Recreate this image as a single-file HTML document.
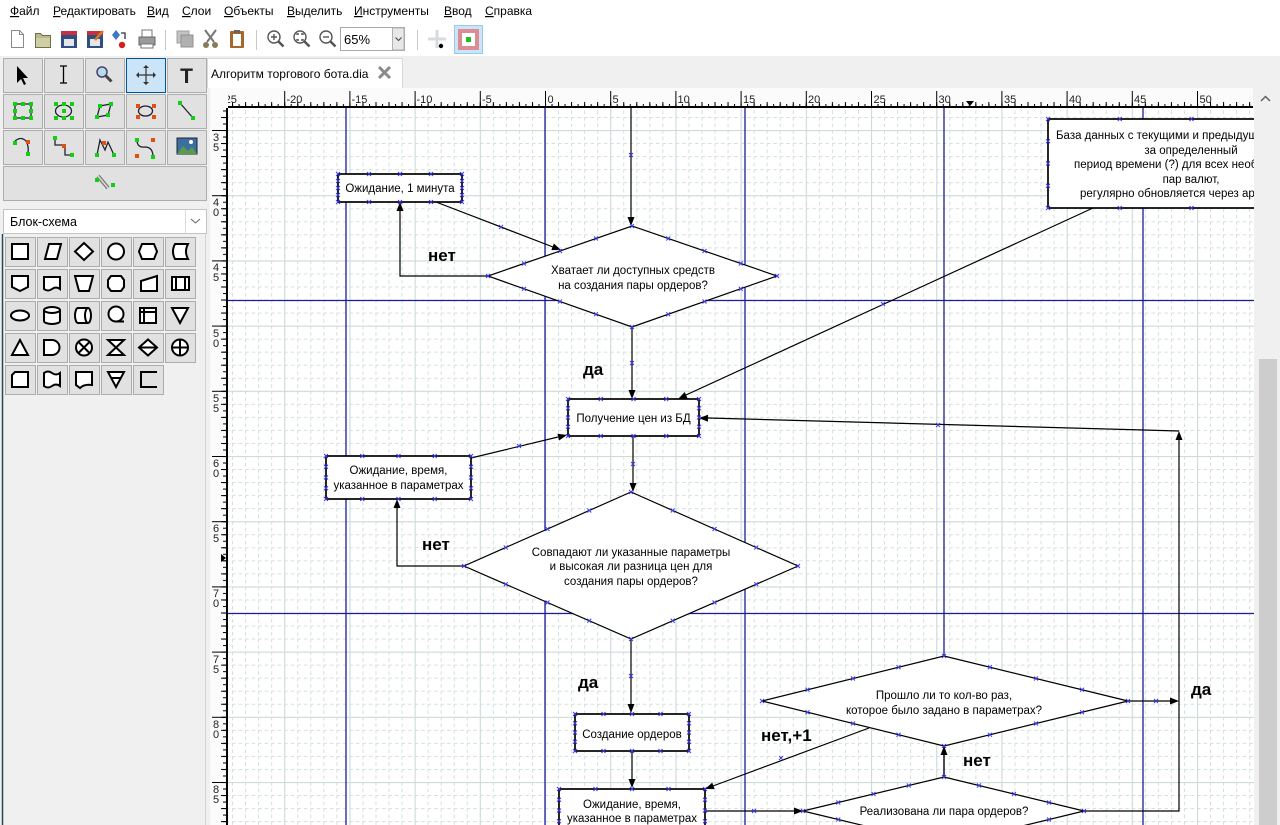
<!DOCTYPE html>
<html><head><meta charset="utf-8">
<style>
html,body{margin:0;padding:0;width:1280px;height:825px;overflow:hidden;background:#f0f0f0;}
svg{display:block}
text{font-family:"Liberation Sans","DejaVu Sans",sans-serif;}
</style></head><body>
<svg width="1280" height="825" viewBox="0 0 1280 825" xmlns="http://www.w3.org/2000/svg">
<defs>
<clipPath id="cv"><rect x="228" y="108" width="1026" height="717"/></clipPath>
<clipPath id="hr"><rect x="228" y="88" width="1025" height="20"/></clipPath>
<pattern id="mg" x="545" y="456" width="13.04" height="13.04" patternUnits="userSpaceOnUse">
<path d="M0.5 0V13.04M0 0.5H13.04" stroke="#d3dfde" stroke-width="1" stroke-dasharray="3.6 2.92" fill="none"/>
</pattern>
<pattern id="Mg" x="545" y="456" width="65.2" height="65.2" patternUnits="userSpaceOnUse">
<path d="M0.5 0V65.2M0 0.5H65.2" stroke="#cddcdb" stroke-width="1.2" fill="none"/>
</pattern>
<pattern id="hT1" x="545" y="0" width="6.52" height="825" patternUnits="userSpaceOnUse"><rect x="0" y="104" width="1" height="3" fill="#000"/></pattern>
<pattern id="hT2" x="545" y="0" width="13.04" height="825" patternUnits="userSpaceOnUse"><rect x="0" y="102" width="1" height="5" fill="#000"/></pattern>
<pattern id="hT3" x="545" y="0" width="65.2" height="825" patternUnits="userSpaceOnUse"><rect x="0" y="91" width="1" height="16" fill="#000"/></pattern>
<pattern id="vT1" x="0" y="456" width="1280" height="6.52" patternUnits="userSpaceOnUse"><rect x="223" y="0" width="3" height="1" fill="#000"/></pattern>
<pattern id="vT2" x="0" y="456" width="1280" height="13.04" patternUnits="userSpaceOnUse"><rect x="221" y="0" width="5" height="1" fill="#000"/></pattern>
<pattern id="vT3" x="0" y="456" width="1280" height="65.2" patternUnits="userSpaceOnUse"><rect x="212" y="0" width="15" height="1" fill="#000"/></pattern>
</defs>

<!-- menu bar -->
<rect x="0" y="0" width="1280" height="22" fill="#ffffff"/>
<g font-size="12" fill="#000">
<text x="10" y="15"><tspan text-decoration="underline">Ф</tspan>айл</text>
<text x="53" y="15"><tspan text-decoration="underline">Р</tspan>едактировать</text>
<text x="147" y="15"><tspan text-decoration="underline">В</tspan>ид</text>
<text x="182" y="15"><tspan text-decoration="underline">С</tspan>лои</text>
<text x="224" y="15"><tspan text-decoration="underline">О</tspan>бъекты</text>
<text x="287" y="15"><tspan text-decoration="underline">В</tspan>ыделить</text>
<text x="354" y="15"><tspan text-decoration="underline">И</tspan>нструменты</text>
<text x="444" y="15"><tspan text-decoration="underline">В</tspan>вод</text>
<text x="485" y="15"><tspan text-decoration="underline">С</tspan>правка</text>
</g>

<!-- toolbar -->
<rect x="0" y="22" width="1280" height="34" fill="#ffffff"/>
<!-- new -->
<path d="M11.5 30.5h8l4 4v13h-12z" fill="#fff" stroke="#8a8a8a"/>
<path d="M19.5 30.5v4h4" fill="none" stroke="#8a8a8a"/>
<!-- open -->
<path d="M35.5 33.5h5l2 2h8v12h-15z" fill="#b9b98c" stroke="#6f6f4a"/>
<rect x="36" y="38" width="14" height="9" fill="#cfcfa4"/>
<!-- save -->
<rect x="61" y="31" width="16" height="17" fill="#2d4f86"/>
<rect x="61" y="31" width="16" height="4" fill="#c8303c"/>
<rect x="64" y="39" width="10" height="7" fill="#e6e6e6"/>
<!-- save as -->
<rect x="87" y="31" width="16" height="17" fill="#2d4f86"/>
<rect x="87" y="31" width="16" height="4" fill="#c8303c"/>
<rect x="90" y="39" width="10" height="7" fill="#e6e6e6"/>
<path d="M95 40l8-9" stroke="#d87b20" stroke-width="2.5"/>
<!-- export -->
<path d="M116 30l4 5-4 5-4-5z" fill="#3a78c8"/>
<circle cx="122" cy="45" r="3.2" fill="#d02020"/>
<path d="M121 33h4v6" fill="none" stroke="#333" stroke-width="1.3"/>
<!-- print -->
<rect x="142" y="30" width="10" height="7" fill="#fff" stroke="#777"/>
<rect x="139" y="37" width="16" height="8" fill="#9a9a9a" stroke="#666"/>
<rect x="141" y="44" width="12" height="4" fill="#fff" stroke="#777"/>
<line x1="165.5" y1="30" x2="165.5" y2="50" stroke="#c8c8c8"/>
<!-- copy -->
<rect x="177" y="31" width="12" height="12" fill="#c4c4c4" stroke="#a0a0a0"/>
<rect x="181" y="35" width="12" height="12" fill="#b0b0b0" stroke="#909090"/>
<!-- cut -->
<path d="M205 30l9 12M216 30l-9 12" stroke="#777" stroke-width="2"/>
<circle cx="206" cy="45" r="3" fill="#8a7a5a"/><circle cx="215" cy="45" r="3" fill="#8a7a5a"/>
<!-- paste -->
<rect x="230" y="31" width="14" height="17" fill="#a5682a" rx="1"/>
<rect x="233" y="34" width="8" height="12" fill="#fff"/>
<rect x="234" y="30" width="6" height="3" fill="#666"/>
<line x1="256.5" y1="30" x2="256.5" y2="50" stroke="#c8c8c8"/>
<!-- zoom in/fit/out -->
<g fill="none" stroke="#555" stroke-width="1.4">
<circle cx="274" cy="37" r="6"/><path d="M278.5 41.5l5 5" stroke-width="2.5"/><path d="M271 37h6M274 34v6"/>
<circle cx="300" cy="37" r="6"/><path d="M304.5 41.5l5 5" stroke-width="2.5"/><path d="M297 35v-1h2M303 35v-1h-2M297 39v1h2M303 39v1h-2"/>
<circle cx="326" cy="37" r="6"/><path d="M330.5 41.5l5 5" stroke-width="2.5"/><path d="M323 37h6"/>
</g>
<!-- combo -->
<rect x="340.5" y="27.5" width="64" height="23" fill="#fff" stroke="#a8a8a8"/>
<rect x="392.5" y="28" width="11.5" height="22" fill="#e8e8e8" stroke="#b0b0b0"/>
<path d="M395.5 37.5l3 3 3-3" fill="none" stroke="#444"/>
<text x="344" y="44" font-size="13">65%</text>
<line x1="417.5" y1="30" x2="417.5" y2="50" stroke="#c8c8c8"/>
<!-- snap -->
<path d="M437 30v18M428 39h18" stroke="#d6dcdc" stroke-width="3"/>
<circle cx="441" cy="46" r="2.2" fill="#000"/>
<!-- grid toggle -->
<rect x="454.5" y="25.5" width="28" height="28" fill="#cce4f7" stroke="#99c9ef"/>
<rect x="458" y="29" width="21" height="21" fill="#de8c94"/>
<rect x="462" y="33" width="13" height="13" fill="#fff"/>
<rect x="466" y="37" width="5" height="5" fill="#20c020"/>

<!-- toolbox -->
<rect x="0" y="56" width="207" height="769" fill="#f0f0f0"/>
<g stroke="#adadad" fill="#e1e1e1">
<rect x="3.5" y="58.5" width="39" height="34"/><rect x="44.5" y="58.5" width="39" height="34"/><rect x="85.5" y="58.5" width="39" height="34"/><rect x="167.5" y="58.5" width="39" height="34"/>
<rect x="3.5" y="94.5" width="39" height="34"/><rect x="44.5" y="94.5" width="39" height="34"/><rect x="85.5" y="94.5" width="39" height="34"/><rect x="126.5" y="94.5" width="39" height="34"/><rect x="167.5" y="94.5" width="39" height="34"/>
<rect x="3.5" y="130.5" width="39" height="34"/><rect x="44.5" y="130.5" width="39" height="34"/><rect x="85.5" y="130.5" width="39" height="34"/><rect x="126.5" y="130.5" width="39" height="34"/><rect x="167.5" y="130.5" width="39" height="34"/>
<rect x="3.5" y="166.5" width="203" height="34"/>
</g>
<rect x="126.5" y="58.5" width="39" height="34" fill="#cce4f7" stroke="#005499"/>
<!-- row1 icons -->
<path d="M17 66v17l4-4 3 6 2-1-3-6h5z" fill="#000"/>
<path d="M60 66h7M63.5 66v17M60 83h7" stroke="#000" stroke-width="1.3" fill="none"/>
<circle cx="102" cy="72" r="5" fill="#bcd8f0" stroke="#446" stroke-width="1.5"/><path d="M105.5 75.5l6 6" stroke="#444" stroke-width="3"/>
<path d="M146 66v18M137 75h18" stroke="#333" stroke-width="1.2"/>
<path d="M146 65l-3 3h6zM146 85l-3-3h6zM136 75l3-3v6zM156 75l-3-3v6z" fill="#333"/>
<text x="186.5" y="83" font-family="Liberation Serif,serif" font-size="21" font-weight="bold" text-anchor="middle" fill="#222">T</text>
<!-- row2 icons -->
<g stroke="#223" stroke-width="1.3" fill="none">
<rect x="15" y="104" width="16" height="14"/>
<ellipse cx="63.5" cy="111" rx="8" ry="6"/>
<path d="M97 117l3-11 11-2-3 11z"/>
<ellipse cx="145.5" cy="111" rx="7" ry="5"/>
<path d="M180 103l13 15"/>
</g>
<g fill="#10d010">
<rect x="13" y="102" width="4" height="4"/><rect x="21" y="102" width="4" height="4"/><rect x="29" y="102" width="4" height="4"/><rect x="13" y="109" width="4" height="4"/><rect x="29" y="109" width="4" height="4"/><rect x="13" y="116" width="4" height="4"/><rect x="21" y="116" width="4" height="4"/><rect x="29" y="116" width="4" height="4"/>
<rect x="54" y="102" width="4" height="4"/><rect x="62" y="102" width="4" height="4"/><rect x="70" y="102" width="4" height="4"/><rect x="54" y="116" width="4" height="4"/><rect x="62" y="116" width="4" height="4"/><rect x="70" y="116" width="4" height="4"/><rect x="62" y="109" width="4" height="4"/>
<rect x="95" y="115" width="4" height="4"/><rect x="98" y="104" width="4" height="4"/><rect x="109" y="102" width="4" height="4"/><rect x="106" y="113" width="4" height="4"/>
<rect x="178" y="101" width="4" height="4"/><rect x="191" y="116" width="4" height="4"/>
</g>
<g fill="#e05010"><rect x="136" y="104" width="4" height="4"/><rect x="152" y="104" width="4" height="4"/><rect x="136" y="115" width="4" height="4"/><rect x="152" y="115" width="4" height="4"/></g>
<!-- row3 icons -->
<g stroke="#223" stroke-width="1.3" fill="none">
<path d="M15 141q6-5 11 0q3 5 2 12"/>
<path d="M55 138v7h10v10h7"/>
<path d="M97 155l3-15 5 10 3-8 6 13"/>
<path d="M137 140q0 8 8 7q8 0 8 10"/>
</g>
<g fill="#10d010"><rect x="13" y="141" width="4" height="4"/><rect x="26" y="152" width="4" height="4"/><rect x="53" y="136" width="4" height="4"/><rect x="70" y="153" width="4" height="4"/><rect x="95" y="153" width="4" height="4"/><rect x="112" y="153" width="4" height="4"/><rect x="135" y="138" width="4" height="4"/><rect x="151" y="155" width="4" height="4"/></g>
<g fill="#e05010"><rect x="26" y="140" width="4" height="4"/><rect x="62" y="144" width="4" height="4"/><rect x="102" y="141" width="4" height="4"/><rect x="135" y="154" width="4" height="4"/><rect x="151" y="138" width="4" height="4"/></g>
<rect x="177" y="138" width="20" height="16" fill="#3a6fa0" stroke="#223"/>
<path d="M177 154l6-8 5 5 4-4 5 7z" fill="#5a9a4a"/>
<circle cx="191" cy="142" r="2" fill="#fff"/>
<!-- row4 icon -->
<path d="M98 176l10 12" stroke="#777" stroke-width="4"/>
<path d="M98 176l10 12" stroke="#ddd" stroke-width="1.5"/>
<rect x="95" y="178" width="4" height="4" fill="#10d010"/><rect x="111" y="183" width="4" height="4" fill="#10d010"/>

<!-- dropdown -->
<rect x="3.5" y="209.5" width="203" height="24" fill="#fff" stroke="#c4c4c4"/>
<line x1="185.5" y1="210" x2="185.5" y2="233" stroke="#dcdcdc"/>
<path d="M191 219l4.5 4 4.5-4" fill="none" stroke="#666"/>
<text x="10" y="226" font-size="12.5" fill="#000">Блок-схема</text>

<!-- palette -->
<rect x="2" y="234" width="203" height="591" fill="#f0f0f0"/>
<line x1="2.5" y1="234" x2="2.5" y2="825" stroke="#2b4756" stroke-width="1.5"/>
<line x1="205.5" y1="234" x2="205.5" y2="825" stroke="#d4d4d4"/>
<g stroke="#adadad" fill="#e1e1e1">
<rect x="5.5" y="237.5" width="30" height="29"/><rect x="37.5" y="237.5" width="30" height="29"/><rect x="69.5" y="237.5" width="30" height="29"/><rect x="101.5" y="237.5" width="30" height="29"/><rect x="133.5" y="237.5" width="30" height="29"/><rect x="165.5" y="237.5" width="30" height="29"/>
<rect x="5.5" y="269.5" width="30" height="29"/><rect x="37.5" y="269.5" width="30" height="29"/><rect x="69.5" y="269.5" width="30" height="29"/><rect x="101.5" y="269.5" width="30" height="29"/><rect x="133.5" y="269.5" width="30" height="29"/><rect x="165.5" y="269.5" width="30" height="29"/>
<rect x="5.5" y="301.5" width="30" height="29"/><rect x="37.5" y="301.5" width="30" height="29"/><rect x="69.5" y="301.5" width="30" height="29"/><rect x="101.5" y="301.5" width="30" height="29"/><rect x="133.5" y="301.5" width="30" height="29"/><rect x="165.5" y="301.5" width="30" height="29"/>
<rect x="5.5" y="333.5" width="30" height="29"/><rect x="37.5" y="333.5" width="30" height="29"/><rect x="69.5" y="333.5" width="30" height="29"/><rect x="101.5" y="333.5" width="30" height="29"/><rect x="133.5" y="333.5" width="30" height="29"/><rect x="165.5" y="333.5" width="30" height="29"/>
<rect x="5.5" y="365.5" width="30" height="29"/><rect x="37.5" y="365.5" width="30" height="29"/><rect x="69.5" y="365.5" width="30" height="29"/><rect x="101.5" y="365.5" width="30" height="29"/><rect x="133.5" y="365.5" width="30" height="29"/>
</g>
<g stroke="#000" stroke-width="2" fill="#fff">
<rect x="12" y="244" width="16" height="15"/>
<path d="M45 259l4-15h12l-4 15z"/>
<path d="M84 243l9 8.5-9 8.5-9-8.5z"/>
<circle cx="116" cy="251.5" r="8"/>
<path d="M142 244h12l3 7.5-3 7.5h-12l-3-7.5z"/>
<path d="M175 244h13q-4 7.5 0 15h-13q-4-7.5 0-15z"/>
<path d="M12 276h16v11l-8 4-8-4z"/>
<path d="M44 277h16v12q-4-3-8 0t-8 0z"/>
<path d="M75 276h18l-4 15h-10z"/>
<path d="M111 276h10l3 4v7l-3 4h-10l-3-4v-7z"/>
<path d="M141 281l16-5v15h-16z"/>
<rect x="172" y="277" width="17" height="13"/>
<path d="M176 277v13M185 277v13" fill="none"/>
<ellipse cx="20" cy="315.5" rx="9" ry="5"/>
<path d="M44 310v11a8 3 0 0 0 16 0v-11a8 3 0 0 0-16 0a8 3 0 0 0 16 0"/>
<path d="M78 308h10a3 7.5 0 0 1 0 15h-10a3 7.5 0 0 1 0-15z"/><path d="M88 308a3 7.5 0 0 0 0 15" fill="none"/>
<circle cx="116" cy="314" r="7.5"/><path d="M116 321.5h8" fill="none"/>
<rect x="140" y="308" width="16" height="15"/><path d="M144 308v15M140 312h16" fill="none"/>
<path d="M172 308h16l-8 15z"/>
<path d="M12 355h16l-8-15z"/>
<path d="M44 340h8a7.5 7.5 0 0 1 0 15h-8z"/>
<circle cx="84" cy="347.5" r="8"/><path d="M78.5 342l11 11M89.5 342l-11 11" fill="none"/>
<path d="M108 340h16l-16 15h16z"/>
<path d="M148 339.5l9 8-9 8-9-8z"/><path d="M139 347.5h18" fill="none"/>
<circle cx="180" cy="347.5" r="8"/><path d="M180 339.5v16M172 347.5h16" fill="none"/>
<path d="M12 375l3-3h13v15h-16z"/>
<path d="M44 373q4-3 8 0t8 0v13q-4-3-8 0t-8 0z"/>
<path d="M76 372h16v13q-8-1-12 3l-4-3z"/>
<path d="M108 372h16l-8 15z"/><path d="M111 378h10" fill="none"/>
<path d="M157 372h-16v15h16" fill="none"/>
</g>

<!-- tab bar -->
<rect x="207" y="56" width="1073" height="32" fill="#f0f0f0"/>
<rect x="207.5" y="58.5" width="195" height="30" fill="#ffffff" stroke="#d9d9d9"/>
<text x="211" y="78" font-size="12" fill="#000">Алгоритм торгового бота.dia</text>
<path d="M379 67l11 11M390 67l-11 11" stroke="#8a8a8a" stroke-width="3"/>

<!-- rulers -->
<rect x="207" y="88" width="21" height="737" fill="#f0f0f0"/>
<rect x="210" y="88" width="18" height="737" fill="#fbfbfb"/>
<rect x="228" y="88" width="1025" height="20" fill="#fbfbfb"/>
<g clip-path="url(#hr)">
<rect x="228" y="88" width="1025" height="20" fill="url(#hT1)"/>
<rect x="228" y="88" width="1025" height="20" fill="url(#hT2)"/>
<rect x="228" y="88" width="1025" height="20" fill="url(#hT3)"/>
<g font-size="11" fill="#222">
<text x="221" y="103">-25</text><text x="286.5" y="103">-20</text><text x="351.5" y="103">-15</text><text x="416.5" y="103">-10</text><text x="482" y="103">-5</text><text x="547.5" y="103">0</text><text x="612.5" y="103">5</text><text x="677.5" y="103">10</text><text x="743" y="103">15</text><text x="808" y="103">20</text><text x="873.5" y="103">25</text><text x="938.5" y="103">30</text><text x="1004" y="103">35</text><text x="1069" y="103">40</text><text x="1134" y="103">45</text><text x="1199.5" y="103">50</text>
</g>
</g>
<rect x="228" y="106" width="1025" height="2" fill="#000"/>
<polygon points="966,101 974,101 970,106" fill="#000"/>
<rect x="210" y="108" width="18" height="717" fill="url(#vT1)"/>
<rect x="210" y="108" width="18" height="717" fill="url(#vT2)"/>
<rect x="210" y="108" width="18" height="717" fill="url(#vT3)"/>
<rect x="226" y="108" width="2" height="717" fill="#000"/>
<polygon points="221,554 221,562 226,558" fill="#000"/>
<g font-size="11" fill="#222">
<text x="213" y="141">3</text><text x="213" y="151">5</text>
<text x="213" y="206">4</text><text x="213" y="216">0</text>
<text x="213" y="271">4</text><text x="213" y="281">5</text>
<text x="213" y="337">5</text><text x="213" y="347">0</text>
<text x="213" y="402">5</text><text x="213" y="412">5</text>
<text x="213" y="467">6</text><text x="213" y="477">0</text>
<text x="213" y="532">6</text><text x="213" y="542">5</text>
<text x="213" y="597">7</text><text x="213" y="607">0</text>
<text x="213" y="663">7</text><text x="213" y="673">5</text>
<text x="213" y="728">8</text><text x="213" y="738">0</text>
<text x="213" y="793">8</text><text x="213" y="803">5</text>
</g>

<!-- scrollbar -->
<rect x="1253" y="88" width="27" height="737" fill="#f0f0f0"/>
<path d="M1261 101l4.5-4.5 4.5 4.5" fill="none" stroke="#606060" stroke-width="1.5"/>
<rect x="1259" y="359" width="18" height="466" fill="#cdcdcd"/>

<!-- canvas -->
<g clip-path="url(#cv)">
<rect x="228" y="108" width="1026" height="717" fill="#ffffff"/>
<rect x="228" y="108" width="1026" height="717" fill="url(#mg)"/>
<rect x="228" y="108" width="1026" height="717" fill="url(#Mg)"/>
<!-- page breaks -->
<g stroke="#1c1c9c" stroke-width="1.3">
<line x1="346" y1="108" x2="346" y2="825"/>
<line x1="545" y1="108" x2="545" y2="825"/>
<line x1="745" y1="108" x2="745" y2="825"/>
<line x1="944" y1="108" x2="944" y2="825"/>
<line x1="1143" y1="108" x2="1143" y2="825"/>
<line x1="228" y1="300.5" x2="1254" y2="300.5"/>
<line x1="228" y1="613.5" x2="1254" y2="613.5"/>
</g>

<!-- shapes -->
<g fill="#fff" stroke="#000">
<rect x="338" y="174" width="124" height="28" stroke-width="1.7"/>
<rect x="568" y="399" width="131" height="37" stroke-width="1.7"/>
<rect x="326" y="456" width="145" height="43" stroke-width="1.7"/>
<rect x="575" y="714" width="114" height="37" stroke-width="1.7"/>
<rect x="559" y="789" width="146" height="43" stroke-width="1.7"/>
<rect x="1048" y="119" width="287" height="89" stroke-width="1.7"/>
<path d="M632 226L777 276L632 327L488 276Z" stroke-width="1.2"/>
<path d="M631 492L798 566L631 639L464 566Z" stroke-width="1.2"/>
<path d="M944 656L1128 701L944 746L762 701Z" stroke-width="1.2"/>
<path d="M944 777L1084 811L944 845L803 811Z" stroke-width="1.2"/>
</g>

<!-- connectors -->
<g stroke="#000" stroke-width="1.2" fill="none">
<path d="M631 108V218"/>
<path d="M436 202L553 247"/>
<path d="M488 276H400V211"/>
<path d="M632 327V391"/>
<path d="M1093 208L686 395"/>
<path d="M1179 431L708 418"/>
<path d="M1084 811H1179V440"/>
<path d="M471 458L558 437"/>
<path d="M633 436V484"/>
<path d="M464 566H397V508"/>
<path d="M631 639V705"/>
<path d="M632 751V780"/>
<path d="M869 728L713 786"/>
<path d="M944 777V755"/>
<path d="M705 811H795"/>
<path d="M1128 701H1171"/>
</g>
<g fill="#000">
<polygon points="631,226 627.5,217 634.5,217"/>
<polygon points="561,250 551.35,250.07 553.85,243.53"/>
<polygon points="400,202 396.5,211 403.5,211"/>
<polygon points="632,399 628.5,390 635.5,390"/>
<polygon points="678,399 684.72,392.06 687.64,398.42"/>
<polygon points="699,418 708.1,414.74 707.9,421.74"/>
<polygon points="1179,431 1175.5,440 1182.5,440"/>
<polygon points="567,435 559.07,440.5 557.43,433.7"/>
<polygon points="633,492 629.5,483 636.5,483"/>
<polygon points="397,499 393.5,508 400.5,508"/>
<polygon points="631,713 627.5,704 634.5,704"/>
<polygon points="632,788 628.5,779 635.5,779"/>
<polygon points="705,789 712.21,782.58 714.65,789.14"/>
<polygon points="944,746 940.5,755 947.5,755"/>
<polygon points="803,811 794,807.5 794,814.5"/>
<polygon points="1179,701 1170,697.5 1170,704.5"/>
</g>

<!-- shape text -->
<g font-size="11.5" fill="#000" text-anchor="middle">
<text x="400" y="192">Ожидание, 1 минута</text>
<text x="633" y="274">Хватает ли доступных средств</text>
<text x="633" y="289">на создания пары ордеров?</text>
<text x="633.5" y="422">Получение цен из БД</text>
<text x="398.5" y="474">Ожидание, время,</text>
<text x="398.5" y="489">указанное в параметрах</text>
<text x="631" y="556">Совпадают ли указанные параметры</text>
<text x="631" y="570">и высокая ли разница цен для</text>
<text x="631" y="585">создания пары ордеров?</text>
<text x="632" y="738">Создание ордеров</text>
<text x="632" y="808">Ожидание, время,</text>
<text x="632" y="822">указанное в параметрах</text>
<text x="944" y="699">Прошло ли то кол-во раз,</text>
<text x="944" y="714">которое было задано в параметрах?</text>
<text x="944" y="815">Реализована ли пара ордеров?</text>
<text x="1191" y="154">за определенный</text>
<text x="1191" y="183">пар валют,</text>
</g>
<g font-size="11.5" fill="#000">
<text x="1056" y="139">База данных с текущими и предыдущими ценами</text>
<text x="1074" y="168">период времени (?) для всех необходимых</text>
<text x="1080" y="197">регулярно обновляется через api</text>
</g>

<!-- connector labels -->
<g font-size="17" font-weight="bold" fill="#000">
<text x="428" y="261">нет</text>
<text x="583" y="375">да</text>
<text x="422" y="550">нет</text>
<text x="578" y="688">да</text>
<text x="761" y="741">нет,+1</text>
<text x="963" y="766">нет</text>
<text x="1191" y="695">да</text>
</g>

<!-- connection point markers -->
<g stroke="#3a3af0" stroke-width="1" fill="none">
<path d="M338 174m-2-2l4 4m0-4l-4 4M369 174m-2-2l4 4m0-4l-4 4M400 174m-2-2l4 4m0-4l-4 4M431 174m-2-2l4 4m0-4l-4 4M462 174m-2-2l4 4m0-4l-4 4M338 202m-2-2l4 4m0-4l-4 4M369 202m-2-2l4 4m0-4l-4 4M400 202m-2-2l4 4m0-4l-4 4M431 202m-2-2l4 4m0-4l-4 4M462 202m-2-2l4 4m0-4l-4 4M338 181m-2-2l4 4m0-4l-4 4M338 188m-2-2l4 4m0-4l-4 4M338 195m-2-2l4 4m0-4l-4 4M462 181m-2-2l4 4m0-4l-4 4M462 188m-2-2l4 4m0-4l-4 4M462 195m-2-2l4 4m0-4l-4 4"/>
<path d="M568 399m-2-2l4 4m0-4l-4 4M600.75 399m-2-2l4 4m0-4l-4 4M633.5 399m-2-2l4 4m0-4l-4 4M666.25 399m-2-2l4 4m0-4l-4 4M699 399m-2-2l4 4m0-4l-4 4M568 436m-2-2l4 4m0-4l-4 4M600.75 436m-2-2l4 4m0-4l-4 4M633.5 436m-2-2l4 4m0-4l-4 4M666.25 436m-2-2l4 4m0-4l-4 4M699 436m-2-2l4 4m0-4l-4 4M568 408.25m-2-2l4 4m0-4l-4 4M568 417.5m-2-2l4 4m0-4l-4 4M568 426.75m-2-2l4 4m0-4l-4 4M699 408.25m-2-2l4 4m0-4l-4 4M699 417.5m-2-2l4 4m0-4l-4 4M699 426.75m-2-2l4 4m0-4l-4 4"/>
<path d="M326 456m-2-2l4 4m0-4l-4 4M362.25 456m-2-2l4 4m0-4l-4 4M398.5 456m-2-2l4 4m0-4l-4 4M434.75 456m-2-2l4 4m0-4l-4 4M471 456m-2-2l4 4m0-4l-4 4M326 499m-2-2l4 4m0-4l-4 4M362.25 499m-2-2l4 4m0-4l-4 4M398.5 499m-2-2l4 4m0-4l-4 4M434.75 499m-2-2l4 4m0-4l-4 4M471 499m-2-2l4 4m0-4l-4 4M326 466.75m-2-2l4 4m0-4l-4 4M326 477.5m-2-2l4 4m0-4l-4 4M326 488.25m-2-2l4 4m0-4l-4 4M471 466.75m-2-2l4 4m0-4l-4 4M471 477.5m-2-2l4 4m0-4l-4 4M471 488.25m-2-2l4 4m0-4l-4 4"/>
<path d="M575 714m-2-2l4 4m0-4l-4 4M603.5 714m-2-2l4 4m0-4l-4 4M632 714m-2-2l4 4m0-4l-4 4M660.5 714m-2-2l4 4m0-4l-4 4M689 714m-2-2l4 4m0-4l-4 4M575 751m-2-2l4 4m0-4l-4 4M603.5 751m-2-2l4 4m0-4l-4 4M632 751m-2-2l4 4m0-4l-4 4M660.5 751m-2-2l4 4m0-4l-4 4M689 751m-2-2l4 4m0-4l-4 4M575 723.25m-2-2l4 4m0-4l-4 4M575 732.5m-2-2l4 4m0-4l-4 4M575 741.75m-2-2l4 4m0-4l-4 4M689 723.25m-2-2l4 4m0-4l-4 4M689 732.5m-2-2l4 4m0-4l-4 4M689 741.75m-2-2l4 4m0-4l-4 4"/>
<path d="M559 789m-2-2l4 4m0-4l-4 4M595.5 789m-2-2l4 4m0-4l-4 4M632 789m-2-2l4 4m0-4l-4 4M668.5 789m-2-2l4 4m0-4l-4 4M705 789m-2-2l4 4m0-4l-4 4M559 799.75m-2-2l4 4m0-4l-4 4M559 810.5m-2-2l4 4m0-4l-4 4M559 821.25m-2-2l4 4m0-4l-4 4M705 799.75m-2-2l4 4m0-4l-4 4M705 810.5m-2-2l4 4m0-4l-4 4M705 821.25m-2-2l4 4m0-4l-4 4"/>
<path d="M1048 119m-2-2l4 4m0-4l-4 4M1119.75 119m-2-2l4 4m0-4l-4 4M1191.5 119m-2-2l4 4m0-4l-4 4M1048 208m-2-2l4 4m0-4l-4 4M1119.75 208m-2-2l4 4m0-4l-4 4M1191.5 208m-2-2l4 4m0-4l-4 4M1048 141.25m-2-2l4 4m0-4l-4 4M1048 163.5m-2-2l4 4m0-4l-4 4M1048 185.75m-2-2l4 4m0-4l-4 4"/>
<path d="M632 226m-2-2l4 4m0-4l-4 4M777 276m-2-2l4 4m0-4l-4 4M632 327m-2-2l4 4m0-4l-4 4M488 276m-2-2l4 4m0-4l-4 4M668.25 238.5m-2-2l4 4m0-4l-4 4M704.5 251m-2-2l4 4m0-4l-4 4M740.75 263.5m-2-2l4 4m0-4l-4 4M740.75 288.75m-2-2l4 4m0-4l-4 4M704.5 301.5m-2-2l4 4m0-4l-4 4M668.25 314.25m-2-2l4 4m0-4l-4 4M596 314.25m-2-2l4 4m0-4l-4 4M560 301.5m-2-2l4 4m0-4l-4 4M524 288.75m-2-2l4 4m0-4l-4 4M524 263.5m-2-2l4 4m0-4l-4 4M560 251m-2-2l4 4m0-4l-4 4M596 238.5m-2-2l4 4m0-4l-4 4"/>
<path d="M631 492m-2-2l4 4m0-4l-4 4M798 566m-2-2l4 4m0-4l-4 4M631 639m-2-2l4 4m0-4l-4 4M464 566m-2-2l4 4m0-4l-4 4M672.75 510.5m-2-2l4 4m0-4l-4 4M714.5 529m-2-2l4 4m0-4l-4 4M756.25 547.5m-2-2l4 4m0-4l-4 4M756.25 584.25m-2-2l4 4m0-4l-4 4M714.5 602.5m-2-2l4 4m0-4l-4 4M672.75 620.75m-2-2l4 4m0-4l-4 4M589.25 620.75m-2-2l4 4m0-4l-4 4M547.5 602.5m-2-2l4 4m0-4l-4 4M505.75 584.25m-2-2l4 4m0-4l-4 4M505.75 547.5m-2-2l4 4m0-4l-4 4M547.5 529m-2-2l4 4m0-4l-4 4M589.25 510.5m-2-2l4 4m0-4l-4 4"/>
<path d="M944 656m-2-2l4 4m0-4l-4 4M1128 701m-2-2l4 4m0-4l-4 4M944 746m-2-2l4 4m0-4l-4 4M762 701m-2-2l4 4m0-4l-4 4M990 667.25m-2-2l4 4m0-4l-4 4M1036 678.5m-2-2l4 4m0-4l-4 4M1082 689.75m-2-2l4 4m0-4l-4 4M1082 712.25m-2-2l4 4m0-4l-4 4M1036 723.5m-2-2l4 4m0-4l-4 4M990 734.75m-2-2l4 4m0-4l-4 4M898.5 734.75m-2-2l4 4m0-4l-4 4M853 723.5m-2-2l4 4m0-4l-4 4M807.5 712.25m-2-2l4 4m0-4l-4 4M807.5 689.75m-2-2l4 4m0-4l-4 4M853 678.5m-2-2l4 4m0-4l-4 4M898.5 667.25m-2-2l4 4m0-4l-4 4"/>
<path d="M944 777m-2-2l4 4m0-4l-4 4M1084 811m-2-2l4 4m0-4l-4 4M803 811m-2-2l4 4m0-4l-4 4M979 785.5m-2-2l4 4m0-4l-4 4M1014 794m-2-2l4 4m0-4l-4 4M1049 802.5m-2-2l4 4m0-4l-4 4M1049 819.5m-2-2l4 4m0-4l-4 4M1014 828m-2-2l4 4m0-4l-4 4M873.5 828m-2-2l4 4m0-4l-4 4M838.25 819.5m-2-2l4 4m0-4l-4 4M838.25 802.5m-2-2l4 4m0-4l-4 4M873.5 794m-2-2l4 4m0-4l-4 4M908.75 785.5m-2-2l4 4m0-4l-4 4"/>
<path d="M631 155m-2-2l4 4m0-4l-4 4M501 227m-2-2l4 4m0-4l-4 4M632 363m-2-2l4 4m0-4l-4 4M883 304m-2-2l4 4m0-4l-4 4M938 425m-2-2l4 4m0-4l-4 4M519 446m-2-2l4 4m0-4l-4 4M633 464m-2-2l4 4m0-4l-4 4M631 676m-2-2l4 4m0-4l-4 4M781 758m-2-2l4 4m0-4l-4 4M754 811m-2-2l4 4m0-4l-4 4M1156 701m-2-2l4 4m0-4l-4 4"/>
</g>
</g>
</svg>
</body></html>
